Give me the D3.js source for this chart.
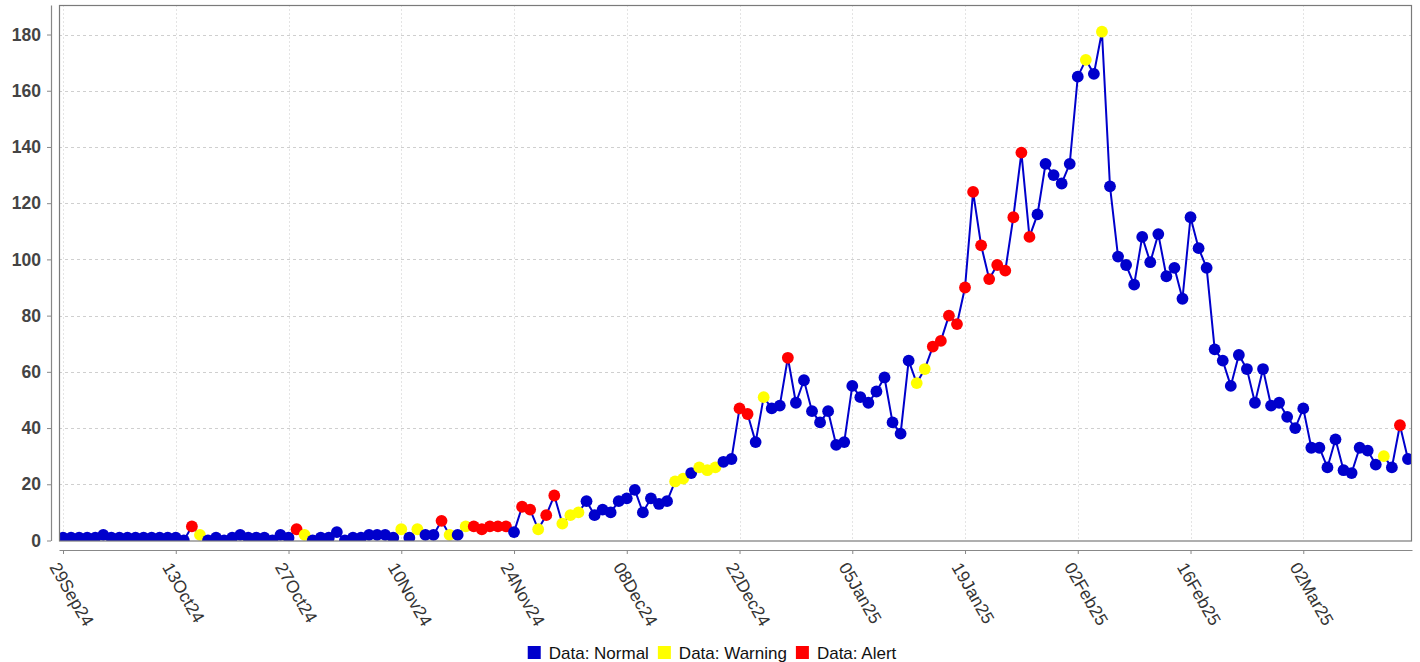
<!DOCTYPE html>
<html>
<head>
<meta charset="utf-8">
<script src="https://cdn.jsdelivr.net/npm/d3@7"></script>
<style>
  html, body { margin: 0; padding: 0; background: #fff; }
  svg { display: block; font-family: "Liberation Sans", Arial, sans-serif; }
</style>
</head>
<body>
<svg id="chart" width="1420" height="662"></svg>
<script>
// ---- data (daily values starting 29 Sep 2024) ----
const startDateLabel = "29Sep24";
const values = [
  1,1,1,1,1,2,1,1,1,1,
  1,1,1,1,1,0,5,2,0,1,
  0,1,2,1,1,1,0,2,1,4,
  2,0,1,1,3,0,1,1,2,2,
  2,1,4,1,4,2,2,7,2,2,
  5,5,4,5,5,5,3,12,11,4,
  9,16,6,9,10,14,9,11,10,14,
  15,18,10,15,13,14,21,22,24,26,
  25,26,28,29,47,45,35,51,47,48,
  65,49,57,46,42,46,34,35,55,51,
  49,53,58,42,38,64,56,61,69,71,
  80,77,90,124,105,93,98,96,115,138,
  108,116,134,130,127,134,165,171,166,181,
  126,101,98,91,108,99,109,94,97,86,
  115,104,97,68,64,55,66,61,49,61,
  48,49,44,40,47,33,33,26,36,25,
  24,33,32,27,30,26,41,29
];
// N = Normal, W = Warning, A = Alert
const status = (
  "NNNNNNNNNN" + "NNNNNNAWNN" + "NNNNNNNNNA" + "WNNNNNNNNN" +
  "NNWNWNNAWN" + "WAAAAANAAW" + "AAWWWNNNNN" + "NNNNNNWWNW" +
  "WWNNAANWNN" + "ANNNNNNNNN" + "NNNNNNWWAA" + "AAAAAAAAAA" +
  "ANNNNNNWNW" + "NNNNNNNNNN" + "NNNNNNNNNN" + "NNNNNNNNNN" +
  "NNNNWNAN"
).split("");
const tickLabels = ["29Sep24","13Oct24","27Oct24","10Nov24","24Nov24","08Dec24",
                    "22Dec24","05Jan25","19Jan25","02Feb25","16Feb25","02Mar25"];
const yTicks = [0,20,40,60,80,100,120,140,160,180];
const legendItems = [
  {key: "N", label: "Data: Normal"},
  {key: "W", label: "Data: Warning"},
  {key: "A", label: "Data: Alert"}
];
const colors = {N: "#0000CC", W: "#FFFF00", A: "#FF0000"};

// ---- layout ----
const plot = {left: 59, right: 1412, top: 5, bottom: 540.5};
const parse = d3.utcParse("%d%b%y");
const start = parse(startDateLabel);
const data = values.map((v, i) => ({date: d3.utcDay.offset(start, i), value: v, status: status[i]}));

const x = d3.scaleUtc()
  .domain([d3.utcHour.offset(start, -12), d3.utcHour.offset(d3.utcDay.offset(start, values.length - 1), 12)])
  .range([plot.left, plot.right]);
const y = d3.scaleLinear().domain([0, 190.5]).range([plot.bottom, plot.top]);

const svg = d3.select("#chart");

// clip
svg.append("defs").append("clipPath").attr("id", "clip")
  .append("rect").attr("x", plot.left).attr("y", plot.top)
  .attr("width", plot.right - plot.left).attr("height", plot.bottom - plot.top + 0.5);

// plot background
svg.append("rect").attr("x", plot.left).attr("y", plot.top)
  .attr("width", plot.right - plot.left).attr("height", plot.bottom - plot.top + 0.5)
  .attr("fill", "#fff");

const tickDates = tickLabels.map(parse);

// vertical gridlines
svg.append("g").selectAll("line").data(tickDates).join("line")
  .attr("x1", d => Math.round(x(d)) + 0.5).attr("x2", d => Math.round(x(d)) + 0.5)
  .attr("y1", plot.top).attr("y2", plot.bottom)
  .attr("stroke", "#e4e4e4").attr("stroke-width", 1).attr("stroke-dasharray", "2,2");

// horizontal gridlines
svg.append("g").selectAll("line").data(yTicks.filter(v => v > 0)).join("line")
  .attr("x1", plot.left).attr("x2", plot.right)
  .attr("y1", d => Math.round(y(d)) + 0.5).attr("y2", d => Math.round(y(d)) + 0.5)
  .attr("stroke", "#cfcfcf").attr("stroke-width", 1).attr("stroke-dasharray", "3,3");

// data
const g = svg.append("g").attr("clip-path", "url(#clip)");
g.append("path").datum(data)
  .attr("fill", "none").attr("stroke", "#0000CC").attr("stroke-width", 2)
  .attr("d", d3.line().x(d => x(d.date)).y(d => y(d.value)));
g.selectAll("circle").data(data).join("circle")
  .attr("cx", d => x(d.date)).attr("cy", d => y(d.value)).attr("r", 5.9)
  .attr("fill", d => colors[d.status]);

// plot border
svg.append("rect").attr("x", plot.left + 0.5).attr("y", plot.top + 0.5)
  .attr("width", plot.right - plot.left - 1).attr("height", plot.bottom - plot.top)
  .attr("fill", "none").attr("stroke", "#7a7a7a").attr("stroke-width", 1.2);

// y axis
const yAxis = svg.append("g").attr("transform", "translate(51,0)")
  .call(d3.axisLeft(y).tickValues(yTicks).tickSize(4).tickSizeOuter(0).tickPadding(6));
yAxis.select(".domain").attr("stroke", "#888").attr("stroke-width", 1.2);
yAxis.selectAll(".tick line").attr("stroke", "#888");
yAxis.selectAll(".tick text")
  .attr("font-family", "'Liberation Sans', Arial, sans-serif")
  .attr("font-size", 17.5).attr("font-weight", "bold").attr("fill", "#444");

// x axis
const xAxis = svg.append("g").attr("transform", "translate(0,550)")
  .call(d3.axisBottom(x).tickValues(tickDates).tickSize(4).tickSizeOuter(0).tickFormat(""));
xAxis.select(".domain").attr("stroke", "#888").attr("stroke-width", 1.2);
xAxis.selectAll(".tick line").attr("stroke", "#888");

svg.append("g").selectAll("text").data(tickDates).join("text")
  .attr("transform", (d, i) => `translate(${x(d) - 14},567) rotate(60)`)
  .attr("text-anchor", "start")
  .attr("font-size", 17.5).attr("fill", "#333")
  .text((d, i) => tickLabels[i]);

// legend
const legend = svg.append("g");
let lx = 0;
legendItems.forEach(it => {
  const grp = legend.append("g").attr("transform", `translate(${lx},0)`);
  grp.append("rect").attr("x", 0).attr("y", 646).attr("width", 13).attr("height", 13)
    .attr("fill", colors[it.key]);
  const t = grp.append("text").attr("x", 21).attr("y", 659)
    .attr("font-size", 17).attr("fill", "#111").text(it.label);
  const w = t.node().getComputedTextLength();
  lx += 21 + w + 9;
});
const totalW = lx - 9;
legend.attr("transform", `translate(${712 - totalW / 2},0)`);
</script>
</body>
</html>
